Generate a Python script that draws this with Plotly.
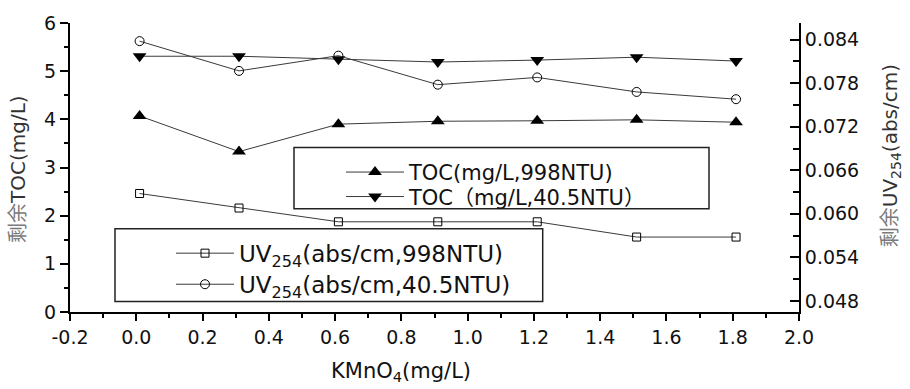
import plotly.graph_objects as go

# ---- data ----
x_kmno4 = [0.01, 0.31, 0.61, 0.91, 1.21, 1.51, 1.81]
toc_998 = [4.07, 3.33, 3.90, 3.96, 3.97, 3.99, 3.94]
toc_405 = [5.31, 5.31, 5.25, 5.19, 5.23, 5.29, 5.21]
uv_998 = [0.0628, 0.0608, 0.0589, 0.0589, 0.0589, 0.0568, 0.0568]
uv_405 = [0.0838, 0.0797, 0.0818, 0.0778, 0.0788, 0.0768, 0.0758]

x_tickvals = [-0.2, 0.0, 0.2, 0.4, 0.6, 0.8, 1.0, 1.2, 1.4, 1.6, 1.8, 2.0]
x_ticktext = ["-0.2", "0.0", "0.2", "0.4", "0.6", "0.8", "1.0", "1.2", "1.4", "1.6", "1.8", "2.0"]

names = ["TOC(mg/L,998NTU)", "TOC（mg/L,40.5NTU）",
         "UV<sub>254</sub>(abs/cm,998NTU)", "UV<sub>254</sub>(abs/cm,40.5NTU)"]

FONT = "DejaVu Sans, Noto Sans CJK SC, sans-serif"
LINE = "#3a3a3a"

fig = go.Figure()
fig.add_trace(go.Scatter(x=x_kmno4, y=toc_998, name=names[0], mode="lines+markers",
                         line=dict(color=LINE, width=1),
                         marker=dict(symbol="triangle-up", size=12, color="black"),
                         legend="legend"))
fig.add_trace(go.Scatter(x=x_kmno4, y=toc_405, name=names[1], mode="lines+markers",
                         line=dict(color=LINE, width=1),
                         marker=dict(symbol="triangle-down", size=12, color="black"),
                         legend="legend2"))
fig.add_trace(go.Scatter(x=x_kmno4, y=uv_998, name=names[2], mode="lines+markers", yaxis="y2",
                         line=dict(color=LINE, width=1),
                         marker=dict(symbol="square-open", size=8, color="black", line=dict(width=1)),
                         legend="legend3"))
fig.add_trace(go.Scatter(x=x_kmno4, y=uv_405, name=names[3], mode="lines+markers", yaxis="y2",
                         line=dict(color=LINE, width=1),
                         marker=dict(symbol="circle-open", size=9, color="black", line=dict(width=1)),
                         legend="legend4"))

L, R, T, B = 70, 111, 17, 77
W, H = 910, 389
pw, ph = W - L - R, H - T - B


def px(xp):
    return (xp - L) / pw


def py(yp):
    return (H - B - yp) / ph


def leg(size):
    return dict(bgcolor="rgba(0,0,0,0)", borderwidth=0, itemwidth=58,
                font=dict(family=FONT, size=size, color="#111"),
                xanchor="left", yanchor="middle", itemclick=False)


fig.update_layout(
    width=W, height=H,
    margin=dict(l=L, r=R, t=T, b=B),
    plot_bgcolor="white", paper_bgcolor="white",
    font=dict(family=FONT, size=19, color="#111"),
    xaxis=dict(range=[-0.2, 2.0], tickvals=x_tickvals, ticktext=x_ticktext,
               showline=True, linecolor="black", linewidth=2, mirror=False,
               ticks="outside", ticklen=7, tickwidth=2, tickcolor="black",
               minor=dict(dtick=0.1, tick0=-0.2, ticks="outside", ticklen=4, tickwidth=2, tickcolor="black"),
               showgrid=False, zeroline=False),
    yaxis=dict(range=[0, 6], dtick=1, showline=True, linecolor="black", linewidth=2,
               ticks="outside", ticklen=8, tickwidth=2, tickcolor="black",
               minor=dict(dtick=0.5, ticks="outside", ticklen=4, tickwidth=2, tickcolor="black"),
               showgrid=False, zeroline=False),
    yaxis2=dict(range=[0.04647, 0.0863], tick0=0.048, dtick=0.006, tickformat=".3f",
                overlaying="y", side="right", anchor="x",
                showline=True, linecolor="black", linewidth=2,
                ticks="inside", ticklen=9, tickwidth=2, tickcolor="black",
                minor=dict(dtick=0.003, ticks="inside", ticklen=6, tickwidth=2, tickcolor="black"),
                showgrid=False, zeroline=False),
    legend=dict(x=px(341), y=py(169.5), **leg(21)),
    legend2=dict(x=px(341), y=py(194.5), **leg(21)),
    legend3=dict(x=px(171), y=py(252), **leg(23)),
    legend4=dict(x=px(171), y=py(283.7), **leg(23)),
    shapes=[
        dict(type="rect", xref="paper", yref="paper", x0=px(294), x1=px(709), y0=py(206.7), y1=py(144),
             line=dict(color="#222", width=1.5)),
        dict(type="rect", xref="paper", yref="paper", x0=px(115), x1=px(542.7), y0=py(301.3), y1=py(227),
             line=dict(color="#222", width=1.5)),
    ],
    annotations=[
        dict(text="KMnO<sub>4</sub>(mg/L)", xref="paper", yref="paper", x=px(401), y=py(373),
             xanchor="center", yanchor="middle",
             showarrow=False, font=dict(family=FONT, size=21, color="#111")),
        dict(text="<span style='color:#7a7a7a'>剩余</span>TOC(mg/L)", xref="paper", yref="paper",
             x=px(18), y=py(166), xanchor="center", yanchor="middle", textangle=-90, showarrow=False,
             font=dict(family=FONT, size=20, color="#333")),
        dict(text="<span style='color:#7a7a7a'>剩余</span>UV<sub>254</sub>(abs/cm)", xref="paper", yref="paper",
             x=px(891), y=py(153), xanchor="center", yanchor="middle", textangle=-90, showarrow=False,
             font=dict(family=FONT, size=20, color="#333")),
    ],
    showlegend=True,
)

fig.write_html("out.html")
